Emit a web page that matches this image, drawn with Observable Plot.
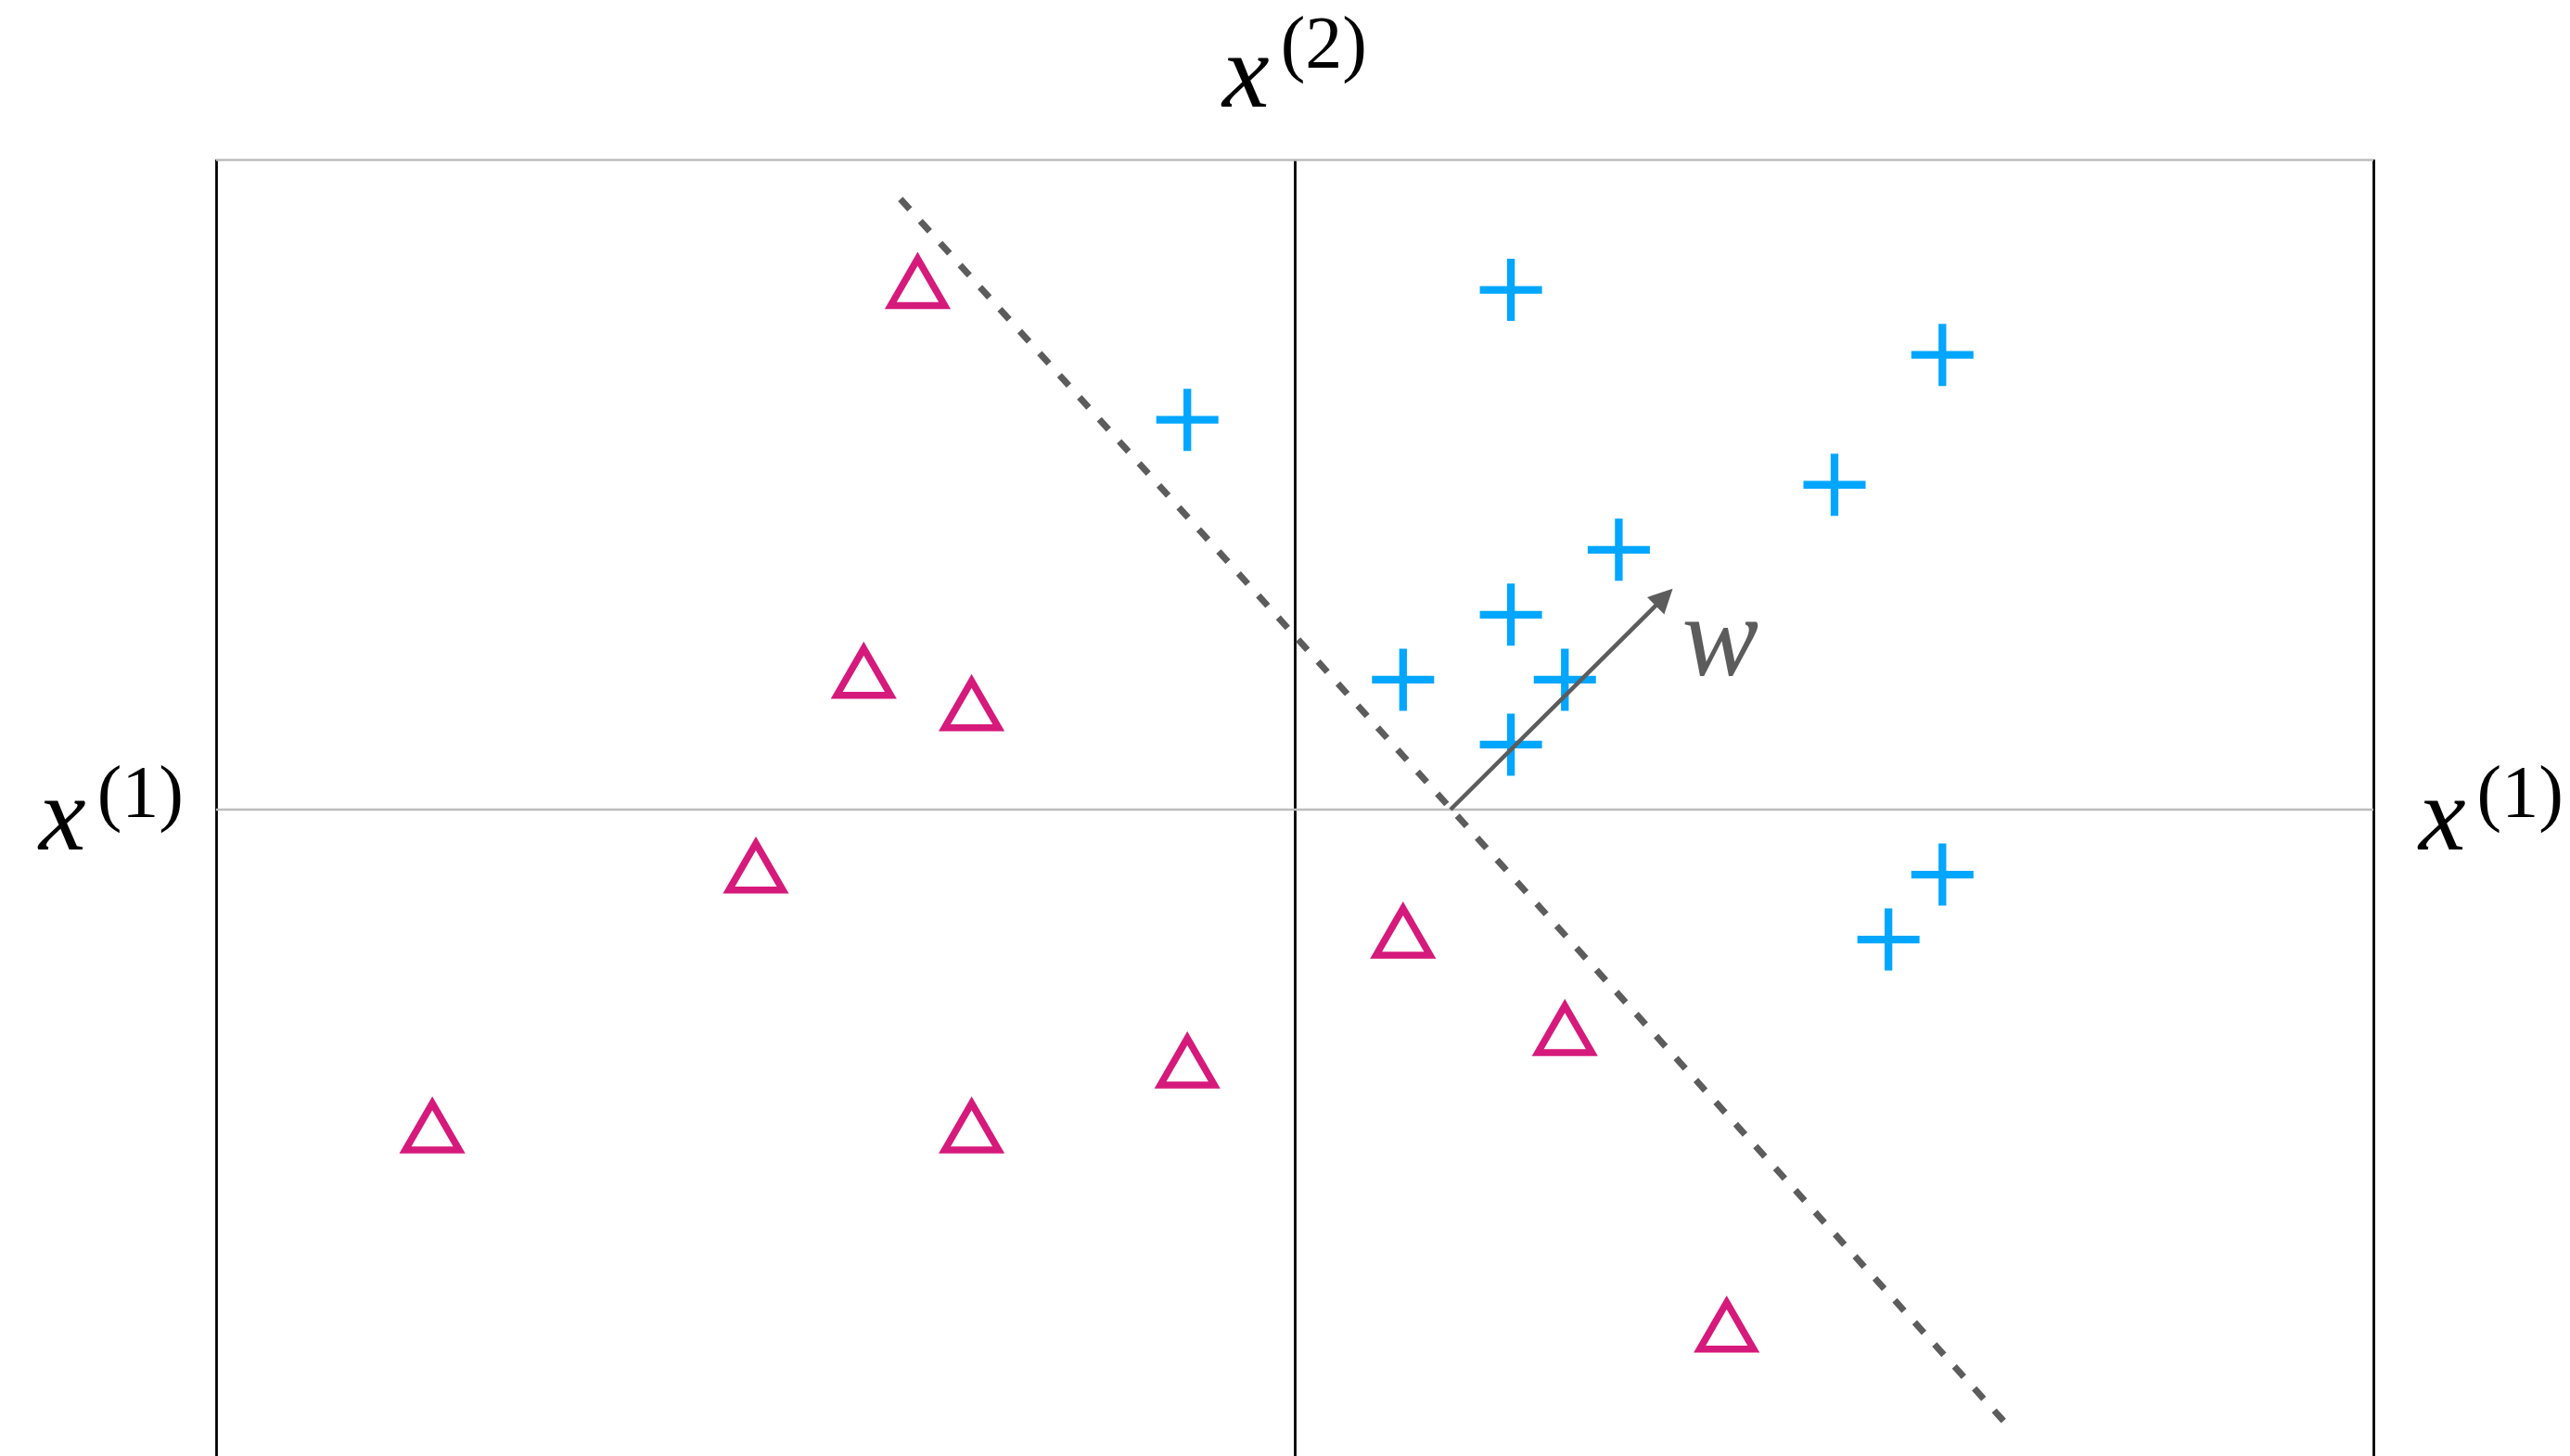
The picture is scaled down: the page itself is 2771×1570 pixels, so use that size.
<!DOCTYPE html>
<html>
<head>
<meta charset="utf-8">
<script src="https://cdn.jsdelivr.net/npm/d3@7"></script>
<script src="https://cdn.jsdelivr.net/npm/@observablehq/plot@0.6"></script>
<style>
  html, body { margin: 0; padding: 0; background: #ffffff; overflow: hidden; }
  #chart { width: 2771px; height: 1570px; overflow: hidden; }
  .mathlabel, .mathlabel tspan { font-family: "Liberation Serif", "DejaVu Serif", serif; }
</style>
</head>
<body>
<div id="chart"></div>
<script>
// ---- data ----
const plusX = [1, 3, -0.5, 2.5, 1.5, 1, 0.5, 1.25, 1, 3, 2.75];
const plusY = [2.4, 2.1, 1.8, 1.5, 1.2, 0.9, 0.6, 0.6, 0.3, -0.3, -0.6];
const triX = [-1.75, -2, -1.5, -2.5, 0.5, 1.25, -0.5, -4, -1.5, 2];
const triY = [2.4, 0.6, 0.45, -0.3, -0.6, -1.05, -1.2, -1.5, -1.5, -2.42];
const boundaryX = [-1.83, 3.29];
const boundaryY = [2.82, -2.83];
const wStart = [0.72, 0];
const wEnd = [1.75, 1.02];
const xDomain = [-5, 5];
const yDomain = [-3, 3];
const axisLabelX = ["x", "(1)"];
const axisLabelY = ["x", "(2)"];
const wLabel = "w";

// ---- tables built from the arrays ----
const plusPts = plusX.map((x, i) => ({x, y: plusY[i]}));
const triPts = triX.map((x, i) => ({x, y: triY[i]}));
const boundary = boundaryX.map((x, i) => ({x, y: boundaryY[i]}));
const wVec = [{x1: wStart[0], y1: wStart[1], x2: wEnd[0], y2: wEnd[1], label: wLabel}];

const GRAY_AXIS = "#bcbcbc";
const DARK = "#5c5c5c";
const BLUE = "#00a6ff";
const PINK = "#d61a7b";
const SERIF = "Liberation Serif";

// filled arrow head with its apex at the origin
const headSymbol = {
  draw(context) {
    context.moveTo(0, 0);
    context.lineTo(-13, 26);
    context.lineTo(13, 26);
    context.closePath();
  }
};

const plot = Plot.plot({
  width: 2771,
  height: 1573,
  marginLeft: 233,
  marginRight: 212,
  marginTop: 172,
  marginBottom: 0,
  x: {domain: xDomain, axis: null},
  y: {domain: yDomain, axis: null},
  style: {background: "#ffffff", overflow: "visible"},
  marks: [
    Plot.ruleX([xDomain[0], 0, xDomain[1]], {stroke: "#000000", strokeWidth: 2.8}),
    Plot.ruleY([0, yDomain[1]], {stroke: GRAY_AXIS, strokeWidth: 2.6}),
    Plot.line(boundary, {x: "x", y: "y", stroke: DARK, strokeWidth: 7, strokeDasharray: "15,17", strokeLinecap: "butt"}),
    Plot.dot(triPts, {x: "x", y: "y", symbol: "triangle", r: 21.6, stroke: PINK, strokeWidth: 7.5, fill: "none"}),
    Plot.dot(plusPts, {x: "x", y: "y", symbol: "plus", r: 21.6, stroke: BLUE, strokeWidth: 8.3, fill: "none", strokeLinecap: "butt"}),
    Plot.arrow(wVec, {x1: "x1", y1: "y1", x2: "x2", y2: "y2", headLength: 0, insetEnd: 14, stroke: DARK, strokeWidth: 4.5, strokeLinecap: "butt"}),
    Plot.dot(wVec, {x: "x2", y: "y2", symbol: headSymbol, rotate: 45, r: 10, fill: DARK, stroke: "none"}),
    Plot.text(wVec, {x: "x2", y: "y2", text: "label", dx: 10, dy: 93, textAnchor: "start", lineAnchor: "bottom",
      fontSize: 124, fontStyle: "italic", fontFamily: SERIF, fill: DARK})
  ]
});

document.getElementById("chart").appendChild(plot);

// axis labels x^(1), x^(2) placed through the plot's scales
const sx = plot.scale("x");
const sy = plot.scale("y");
const svg = d3.select(plot);

function mathLabel(parts, px, py, anchor, supShift) {
  const t = svg.append("text")
    .attr("class", "mathlabel")
    .attr("x", px)
    .attr("y", py)
    .attr("text-anchor", anchor)
    .attr("fill", "#000000");
  t.append("tspan").attr("font-style", "italic").attr("font-size", 114).text(parts[0]);
  t.append("tspan").attr("font-size", 80).attr("dx", 12).attr("dy", -supShift).text(parts[1]);
}

mathLabel(axisLabelY, sx.apply(0), sy.apply(yDomain[1]) - 57, "middle", 42);
mathLabel(axisLabelX, sx.apply(xDomain[0]) - 35, sy.apply(0) + 43, "end", 35);
mathLabel(axisLabelX, sx.apply(xDomain[1]) + 49, sy.apply(0) + 43, "start", 35);
</script>
</body>
</html>
